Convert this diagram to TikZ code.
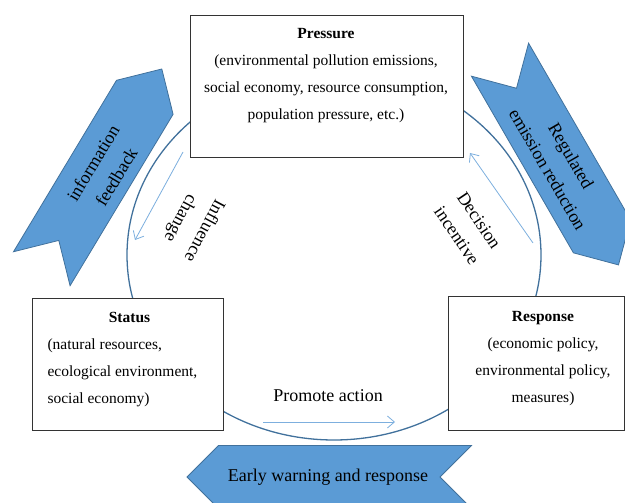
\documentclass[tikz,border=0pt]{standalone}
\usepackage[usenames,dvipsnames]{xcolor}
\usepackage{fontspec}
\setmainfont{Liberation Serif}
\usepackage{tikz}
\usetikzlibrary{arrows.meta,positioning}

\definecolor{ribbonfill}{RGB}{91,155,213}
\definecolor{ribbonline}{RGB}{65,113,156}
\definecolor{ringline}{RGB}{65,113,156}
\definecolor{flowline}{RGB}{125,175,222}

\tikzset{
  box/.style={draw=black!80, fill=white, line width=0.8pt, rectangle, inner sep=0pt},
  boxtext/.style={font=\fontsize{15.5}{27}\selectfont, align=center},
  ribbon/.style={fill=ribbonfill, draw=ribbonline, line width=0.8pt},
  ribbontext/.style={font=\fontsize{18}{27}\selectfont, align=center},
  flow/.style={draw=flowline, line width=0.8pt, -{Straight Barb[length=7pt,width=12pt]}}
}

\begin{document}
\begin{tikzpicture}[x=1pt,y=-1pt]
   \useasboundingbox (0,0) rectangle (625,503);
   \clip (0,0) rectangle (625,503);

   \draw[ringline, line width=1.3pt] (334,255) ellipse [x radius=207pt, y radius=185pt];

   \node[box, minimum width=273pt, minimum height=142pt] (pressure) at (326.5,86) {};
   \node[box, minimum width=191pt, minimum height=132pt] (status) at (127.5,364) {};
   \node[box, minimum width=176pt, minimum height=134pt] (response) at (536,363) {};

   \node[boxtext] (pressuretext) at (326,76) {\textbf{Pressure}\\(environmental pollution emissions,\\social economy, resource consumption,\\population pressure, etc.)};
   \node[boxtext, align=left, anchor=west] (statustext) at (44,360) {\makebox[164pt]{\textbf{Status}}\\(natural resources,\\ecological environment,\\social economy)};
   \node[boxtext] (responsetext) at (543,358.5) {\textbf{Response}\\(economic policy,\\environmental policy,\\measures)};

   \begin{scope}[shift={(93.3,183)},rotate=59]
     \draw[ribbon] (-100,33) -- (100,33) -- (133,0) -- (100,-33) -- (-100,-33) -- (-67,0) -- cycle;
     \node[ribbontext, rotate=59] (feedback) at (17,3) {information\\feedback};
   \end{scope}

   \begin{scope}[shift={(551,148)},rotate=-60]
     \draw[ribbon] (-102,33) -- (102,33) -- (135,0) -- (102,-33) -- (-102,-33) -- (-69,0) -- cycle;
     \node[ribbontext, rotate=-60] (regulated) at (17,0) {Regulated\\emission reduction};
   \end{scope}

   \begin{scope}[shift={(345,477)},rotate=180]
     \draw[ribbon] (-126.5,31.5) -- (126.5,31.5) -- (158,0) -- (126.5,-31.5) -- (-126.5,-31.5) -- (-95,0) -- cycle;
     \node[ribbontext] (warning) at (17,0) {Early warning and response};
   \end{scope}

   \node[ribbontext, rotate=-118] (influence) at (192,224) {Influence\\change};
   \node[ribbontext, rotate=-56] (decision) at (468,228) {Decision\\incentive};
   \node[ribbontext] (promote) at (328,396) {Promote action};

   \coordinate (influence-a) at (183,152);
   \coordinate (influence-b) at (135,240);
   \coordinate (decision-a) at (533,243);
   \coordinate (decision-b) at (470,153);
   \coordinate (promote-a) at (263,422);
   \coordinate (promote-b) at (395,422);

     \draw[flow] (influence-a) -- (influence-b);
     \draw[flow] (decision-a) -- (decision-b);
     \draw[flow] (promote-a) -- (promote-b);

\end{tikzpicture}
\end{document}
